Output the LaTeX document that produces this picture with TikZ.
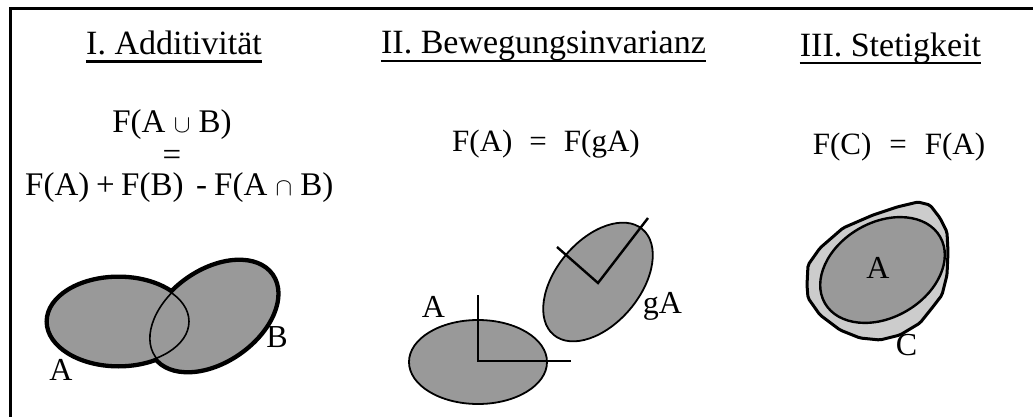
\documentclass[tikz,border=0pt]{standalone}
\usepackage{fontspec}
\setmainfont{Liberation Serif}
\tikzset{
  ttl/.style={inner sep=0pt, anchor=base, font=\fontsize{34}{40}\selectfont},
  frm/.style={inner sep=0pt, font=\fontsize{33}{38}\selectfont},
  frmb/.style={inner sep=0pt, font=\fontsize{31}{36}\selectfont},
  lbl/.style={inner sep=0pt, anchor=base, font=\fontsize{32}{38}\selectfont},
  uline/.style={line width=2.4pt},
  blob/.style={fill=blobgray},
}
\definecolor{blobgray}{HTML}{999999}
\definecolor{lightgray2}{HTML}{CCCCCC}
\begin{document}
\begin{tikzpicture}[x=1pt,y=-1pt]
\useasboundingbox (0,0) rectangle (1033,417);
% frame
\coordinate (fbl) at (10,417);
\coordinate (ftl) at (10,8.5);
\coordinate (ftr) at (1033,8.5);
\draw[line width=3pt] (fbl) -- (ftl) -- (ftr);

% titles
\node[ttl] (t1) at (174,55) {I. Additivität};
\node[ttl] (t2) at (543.5,54) {II. Bewegungsinvarianz};
\node[ttl] (t3) at (890.5,57) {III. Stetigkeit};
\draw[uline] ([yshift=-6.5pt]t1.base west) -- ([yshift=-6.5pt]t1.base east);
\draw[uline] ([yshift=-7pt]t2.base west) -- ([yshift=-7pt]t2.base east);
\draw[uline] ([yshift=-6pt]t3.base west) -- ([yshift=-6pt]t3.base east);

% formulas panel I
\node[frm, anchor=base, text depth=5pt] (fu) at (172,133) {F(A $\cup$ B)};
\node[frm, anchor=base, text height=13pt, text depth=0pt] (feq) at (172,165) {=};
\node[frm, anchor=base west, text height=24pt] (fa) at (25,195) {F(A)};
\node[frm, anchor=base west, text height=24pt] (fplus) at (96,195) {+};
\node[frm, anchor=base west, text height=24pt] (fb) at (121,195) {F(B)};
\node[frm, anchor=base west, text height=24pt] (fminus) at (196,195) {-};
\node[frm, anchor=base west, text height=24pt] (fcap) at (214,195) {F(A $\cap$ B)};

% formula panel II
\node[frmb, anchor=base] (f2) at (546,152) {F(A)\hspace{17pt}=\hspace{17pt}F(gA)};
% formula panel III
\node[frmb, anchor=base] (f3) at (899,154) {F(C)\hspace{18pt}=\hspace{18pt}F(A)};

% panel I: union of A and B
\draw[line width=7pt] (118.5,321.5) ellipse [x radius=70.5, y radius=43.5];
\begin{scope}[shift={(213.5,316)}, rotate=35]
  \draw[line width=7pt] (0,0) ellipse [x radius=71, y radius=45];
\end{scope}
\fill[blobgray] (118.5,321.5) ellipse [x radius=70.5, y radius=43.5];
\begin{scope}[shift={(213.5,316)}, rotate=35]
  \fill[blobgray] (0,0) ellipse [x radius=71, y radius=45];
  \draw[line width=1.6pt] (0,0) ellipse [x radius=71, y radius=45];
\end{scope}
\draw[line width=1.6pt] (118.5,321.5) ellipse [x radius=70.5, y radius=43.5];
\node[lbl] (la1) at (61,380) {A};
\node[lbl] (lb1) at (277,347) {B};

% panel II
\draw[blob, line width=1.8pt] (478,362) ellipse [x radius=69, y radius=42];
\coordinate (o1) at (478,361);
\coordinate (o1v) at (478,295);
\coordinate (o1h) at (571,361);
\draw[line width=2.4pt] (o1v) -- (o1) -- (o1h);
\begin{scope}[shift={(598,282)}, rotate=50]
  \draw[blob, line width=1.8pt] (0,0) ellipse [x radius=69, y radius=42];
\end{scope}
\coordinate (o2) at (598,283);
\coordinate (o2a) at (648,218);
\coordinate (o2b) at (557,247);
\draw[line width=2.4pt] (o2b) -- (o2) -- (o2a);
\node[lbl] (la2) at (433.5,317) {A};
\node[lbl] (lga) at (662.5,313) {gA};

% panel III
\draw[fill=lightgray2, line width=3pt, line join=round, rounded corners=2pt]
  (918,202) -- (930,205) -- (940,218) -- (947,232) -- (948,252) -- (947,275)
  -- (942,295) -- (932,308) -- (920,323) -- (900,335) -- (880,340) -- (860,338)
  -- (840,330) -- (820,315) -- (808,298) -- (807,285) -- (808,265) -- (820,248)
  -- (843,228) -- (873,215) -- (897,207) -- cycle;
\begin{scope}[shift={(882.5,270)}, rotate=30]
  \draw[blob, line width=2.4pt] (0,0) ellipse [x radius=66.5, y radius=47.5];
\end{scope}
\node[lbl] (la3) at (878,278) {A};
\node[lbl] (lc3) at (906.5,355) {C};
\end{tikzpicture}
\end{document}
